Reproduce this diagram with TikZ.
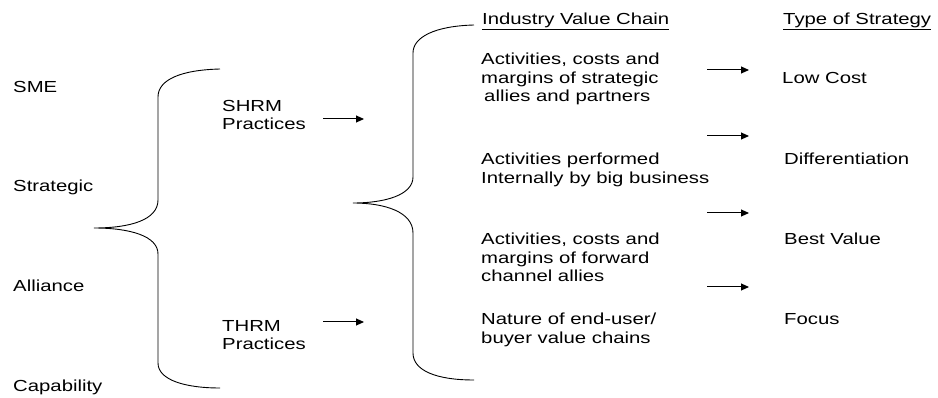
\documentclass[tikz,border=0pt]{standalone}
\usepackage{fontspec}
\setmainfont{Liberation Sans}[FakeStretch=1.27]
\usetikzlibrary{arrows.meta}
\tikzset{
  lbl/.style={anchor=north west, inner sep=0pt, align=left, font=\fontsize{16}{18.5}\selectfont},
  arr/.style={line width=1pt, -{Triangle[length=8pt,width=7pt]}},
  brace/.style={line width=0.9pt}
}
\begin{document}
\begin{tikzpicture}[x=1pt,y=-1pt]
\useasboundingbox (0,0) rectangle (938,398);
% left column
\node[lbl] (sme) at (13,81) {SME};
\node[lbl] (strat) at (13,180) {Strategic};
\node[lbl] (all) at (13,280) {Alliance};
\node[lbl] (cap) at (13,380) {Capability};
% left brace
\draw[brace] (220,69) .. controls (180,70) and (158,80) .. (158,97)
  -- (158,200) .. controls (158,220) and (130,228) .. (94,228)
  .. controls (130,228) and (158,236) .. (158,254)
  -- (158,363) .. controls (158,380) and (185,388) .. (220,388);
% HRM practices
\node[lbl] (shrm) at (222,100) {SHRM\\Practices};
\node[lbl] (thrm) at (222,320) {THRM\\Practices};
\coordinate (s1) at (323,119); \coordinate (s2) at (364,119);
\coordinate (t1) at (323,322); \coordinate (t2) at (364,322);
\draw[arr] (s1) -- (s2);
\draw[arr] (t1) -- (t2);
% right brace
\draw[brace] (474,25) .. controls (435,26) and (413,37) .. (413,53)
  -- (413,177) .. controls (413,195) and (385,203) .. (353,203)
  .. controls (385,203) and (413,212) .. (413,233)
  -- (413,353) .. controls (413,370) and (435,380) .. (474,380);
% value chain
\node[lbl] (ivc) at (482,13) {\underline{Industry Value Chain}};
\node[lbl] (v1) at (481,53) {Activities, costs and\\margins of strategic\\\hspace*{3pt}allies and partners};
\node[lbl] (v2) at (481,153) {Activities performed\\Internally by big business};
\node[lbl] (v3) at (481,233) {Activities, costs and\\margins of forward\\channel allies};
\node[lbl] (v4) at (481,313) {Nature of end-user/\\buyer value chains};
% arrows right
\coordinate (a1) at (707,70);  \coordinate (b1) at (749,70);
\coordinate (a2) at (707,136); \coordinate (b2) at (749,136);
\coordinate (a3) at (707,213); \coordinate (b3) at (749,213);
\coordinate (a4) at (707,287); \coordinate (b4) at (749,287);
\draw[arr] (a1) -- (b1);
\draw[arr] (a2) -- (b2);
\draw[arr] (a3) -- (b3);
\draw[arr] (a4) -- (b4);
% strategy
\node[lbl] (tos) at (783,13) {\underline{Type of Strategy}};
\node[lbl] (lc) at (782,72) {Low Cost};
\node[lbl] (diff) at (784,153) {Differentiation};
\node[lbl] (bv) at (784,233) {Best Value};
\node[lbl] (foc) at (784,313) {Focus};
\end{tikzpicture}
\end{document}
